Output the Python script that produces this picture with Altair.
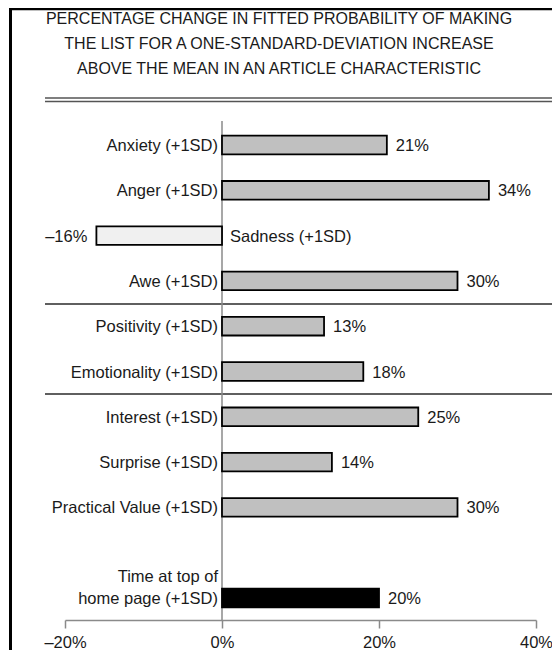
import altair as alt
import pandas as pd

# ---- data ----
categories = [
    "Anxiety (+1SD)", "Anger (+1SD)", "Sadness (+1SD)", "Awe (+1SD)",
    "Positivity (+1SD)", "Emotionality (+1SD)",
    "Interest (+1SD)", "Surprise (+1SD)", "Practical Value (+1SD)",
    "Time at top of\nhome page (+1SD)",
]
values = [21, 34, -16, 30, 13, 18, 25, 14, 30, 20]
kinds = ["content", "content", "negative", "content",
         "content", "content", "content", "content", "content", "position"]
gap_slot = " "   # empty row before the last bar
y_domain = categories[:9] + [gap_slot] + categories[9:]
title_lines = [
    "PERCENTAGE CHANGE IN FITTED PROBABILITY OF MAKING",
    "THE LIST FOR A ONE-STANDARD-DEVIATION INCREASE",
    "ABOVE THE MEAN IN AN ARTICLE CHARACTERISTIC",
]
x_ticks = [-20, 0, 20, 40]

FONT = "Liberation Sans"
TXT = "#1a1a1a"
LH = 22
df = pd.DataFrame({"label": categories, "value": values, "kind": kinds})

xscale = alt.Scale(domain=[-20, 40], range=[57, 528], nice=False, zero=False)
yenc = alt.Y("label:N", axis=None, sort=None,
             scale=alt.Scale(domain=y_domain, range=[114.35, 612.65],
                             paddingInner=0.59, paddingOuter=0.295))
pct = "(datum.value < 0 ? '\u2013' + abs(datum.value) : datum.value) + '%'"
multi = "indexof(datum.label, '\\n') >= 0"

base = alt.Chart(df)

bars = base.mark_bar(stroke="black", strokeWidth=1.8).encode(
    x=alt.X("value:Q", scale=xscale,
            axis=alt.Axis(values=x_ticks, title=None, grid=False,
                          domainColor="#8a8a8a", domainWidth=1.5,
                          tickColor="#8a8a8a", tickWidth=1.5, tickSize=8,
                          labelFontSize=16.5, labelFont=FONT, labelColor=TXT,
                          labelPadding=6, labelFlush=False, labelOverlap=False,
                          labelExpr=pct)),
    x2=alt.datum(0),
    y=yenc,
    fill=alt.Fill("kind:N", legend=None,
                  scale=alt.Scale(domain=["content", "negative", "position"],
                                  range=["#c0c0c0", "#f0f0f0", "#000000"])),
)

zero = alt.Chart(pd.DataFrame({"z": [0]})).mark_rule(
    color="#8a8a8a", strokeWidth=1.5).encode(
    x=alt.X("z:Q", scale=xscale), y=alt.value(113), y2=alt.value(612))

names_left = base.transform_filter(
    "datum.value >= 0 && !(" + multi + ")").mark_text(
    align="right", baseline="bottom", dx=-4, dy=9, fontSize=16.5, font=FONT,
    color=TXT).encode(x=alt.datum(0), y=yenc, text="label:N")

names_multi = base.transform_filter(multi).mark_text(
    align="right", baseline="bottom", dx=-4, dy=9 - LH, fontSize=16.5,
    font=FONT, color=TXT, lineBreak="\n", lineHeight=LH).encode(
    x=alt.datum(0), y=yenc, text="label:N")

names_right = base.transform_filter("datum.value < 0").mark_text(
    align="left", baseline="bottom", dx=8, dy=9, fontSize=16.5, font=FONT,
    color=TXT).encode(x=alt.datum(0), y=yenc, text="label:N")

vals_pos = base.transform_filter("datum.value >= 0").transform_calculate(
    vtext=pct).mark_text(align="left", baseline="bottom", dx=9, dy=9,
                         fontSize=16.5, font=FONT, color=TXT).encode(
    x="value:Q", y=yenc, text="vtext:N")

vals_neg = base.transform_filter("datum.value < 0").transform_calculate(
    vtext=pct).mark_text(align="right", baseline="bottom", dx=-9, dy=9,
                         fontSize=16.5, font=FONT, color=TXT).encode(
    x="value:Q", y=yenc, text="vtext:N")

one = pd.DataFrame({"k": [0]})


def hline(y, color, w):
    return alt.Chart(one).mark_rule(color=color, strokeWidth=w).encode(
        x=alt.value(37), x2=alt.value(544), y=alt.value(y))


seps = [hline(90, "#555555", 1.6), hline(93.5, "#555555", 1.6),
        hline(296, "#2a2a2a", 1.3), hline(386, "#2a2a2a", 1.3)]

border_top = alt.Chart(one).mark_rule(color="black", strokeWidth=2.2).encode(
    x=alt.value(2), x2=alt.value(544), y=alt.value(1.1))
border_left = alt.Chart(one).mark_rule(color="black", strokeWidth=3).encode(
    x=alt.value(2.5), y=alt.value(0), y2=alt.value(642))

title = alt.Chart(pd.DataFrame({"t": ["\n".join(title_lines)]})).mark_text(
    lineBreak="\n", lineHeight=25, fontSize=16, font=FONT, align="center",
    baseline="alphabetic", color=TXT).encode(
    x=alt.value(271), y=alt.value(16), text="t:N")

chart = alt.layer(
    border_top, border_left, title, *seps, zero, bars,
    names_left, names_multi, names_right, vals_pos, vals_neg,
).properties(
    width=544, height=612,
    autosize=alt.AutoSizeParams(type="none"),
    padding={"left": 0, "top": 0, "right": 0, "bottom": 30},
).configure_view(stroke=None)

chart.save("out.html", embed_options={"renderer": "svg", "actions": False})
